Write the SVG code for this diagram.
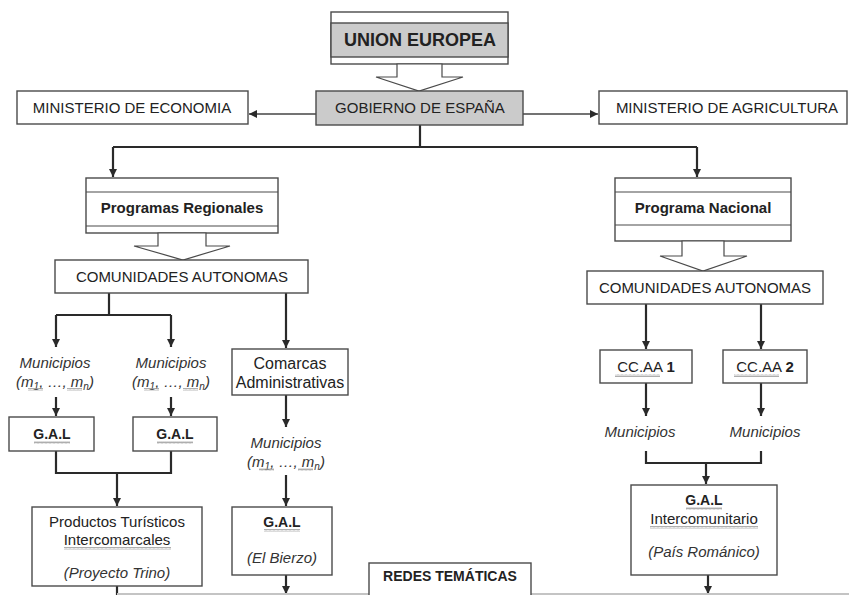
<svg xmlns="http://www.w3.org/2000/svg" width="849" height="595" viewBox="0 0 849 595">
<defs>
<marker id="ah" markerUnits="userSpaceOnUse" markerWidth="9" markerHeight="9" refX="8" refY="4" orient="auto">
<path d="M0,0 L8,4 L0,8 z" fill="#2a2a2a"/>
</marker>
<pattern id="squig" patternUnits="userSpaceOnUse" width="4" height="3">
<path d="M0,2.5 L1,0.5 L2,2.5 L3,0.5 L4,2.5" fill="none" stroke="#999" stroke-width="0.8"/>
</pattern>
<style>
.box{fill:#fff;stroke:#4a4a4a;stroke-width:1.4}
.gray{fill:#cbcbcb;stroke:#4a4a4a;stroke-width:1.4}
.ln{fill:none;stroke:#4a4a4a;stroke-width:1.2}
.blk{fill:#fff;stroke:#4a4a4a;stroke-width:1.2}
.con{fill:none;stroke:#2a2a2a;stroke-width:2.2}
.thin{fill:none;stroke:#444;stroke-width:1.6}
.arr{marker-end:url(#ah)}
text{font-family:"Liberation Sans",Arial,sans-serif;fill:#222;text-anchor:middle}
.b{font-weight:bold}
.i{font-style:italic;fill:#333}
.r{font-size:15px}
.sq{fill:url(#squig)}
</style>
</defs>
<rect width="849" height="595" fill="#fff"/>

<g id="connectors">
<path class="thin arr" d="M316,114 L249,114"/>
<path class="thin arr" d="M523,114 L598,114"/>
<path class="con" d="M420,125 L420,147 M113,147 L697,147"/>
<path class="con arr" d="M113,147 L113,177"/>
<path class="con arr" d="M697,147 L697,177"/>
<path class="con" d="M109,293 L109,315 M56,315 L171,315"/>
<path class="con arr" d="M56,315 L56,347"/>
<path class="con arr" d="M171,315 L171,347"/>
<path class="con arr" d="M286,293 L286,348"/>
<path class="con arr" d="M56,397 L56,416"/>
<path class="con arr" d="M171,397 L171,416"/>
<path class="con" d="M56,451 L56,473 L171,473 L171,451"/>
<path class="con arr" d="M117,473 L117,506"/>
<path class="con" d="M117,586 L117,595"/>
<path class="con arr" d="M286,395 L286,427"/>
<path class="con arr" d="M286,475 L286,506"/>
<path class="con arr" d="M286,575 L286,594"/>
<path class="con arr" d="M646,304 L646,349"/>
<path class="con arr" d="M761,304 L761,349"/>
<path class="con arr" d="M646,383 L646,416"/>
<path class="con arr" d="M761,383 L761,416"/>
<path class="con" d="M646,451 L646,463 L761,463 L761,451"/>
<path class="con arr" d="M706,463 L706,484"/>
<path class="con arr" d="M708,575 L708,594"/>
<path d="M117,594 L849,594" stroke="#c4c4c4" stroke-width="2" fill="none"/>
</g>

<g id="union-europea">
<rect class="box" x="331" y="12" width="177" height="52"/>
<rect class="gray" x="331" y="23" width="177" height="34"/>
<text class="b" x="420" y="46" font-size="18">UNION EUROPEA</text>
<polygon class="blk" points="397,64 442,64 442,77 463,77 419,91 376,77 397,77"/>
</g>

<g id="gobierno">
<rect class="gray" x="316" y="91" width="207" height="34"/>
<text class="r" x="420" y="113">GOBIERNO DE ESPAÑA</text>
</g>

<g id="min-economia">
<rect class="box" x="17" y="91" width="231" height="33"/>
<text class="r" x="132" y="113">MINISTERIO DE ECONOMIA</text>
</g>

<g id="min-agricultura">
<rect class="box" x="599" y="91" width="248" height="33"/>
<text class="r" x="727" y="113">MINISTERIO DE AGRICULTURA</text>
</g>

<g id="programas-regionales">
<rect class="box" x="86" y="178" width="192" height="55"/>
<path class="ln" d="M86,192 L278,192 M86,226 L278,226"/>
<text class="b r" x="182" y="213">Programas Regionales</text>
<polygon class="blk" points="158,233 206,233 206,246 230,246 183,260 134,246 158,246"/>
</g>

<g id="programa-nacional">
<rect class="box" x="615" y="178" width="176" height="63"/>
<path class="ln" d="M615,192 L791,192 M615,225 L791,225"/>
<text class="b r" x="703" y="213">Programa Nacional</text>
<polygon class="blk" points="682,241 724,241 724,256 747,256 703,271 660,256 682,256"/>
</g>

<g id="ccaa-left">
<rect class="box" x="55" y="260" width="253" height="33"/>
<text class="r" x="182" y="282">COMUNIDADES AUTONOMAS</text>
</g>

<g id="ccaa-right">
<rect class="box" x="587" y="271" width="236" height="33"/>
<text class="r" x="705" y="293">COMUNIDADES AUTONOMAS</text>
</g>

<g id="municipios-1">
<text class="i r" x="55" y="368">Municipios</text>
<text class="i r" x="55" y="387">(m<tspan font-size="10" dy="3">1</tspan><tspan dy="-3">, …, m</tspan><tspan font-size="10" dy="3">n</tspan><tspan dy="-3">)</tspan></text>
<rect class="sq" x="28" y="388" width="15" height="3"/>
<rect class="sq" x="67" y="388" width="15" height="3"/>
</g>

<g id="municipios-2">
<text class="i r" x="171" y="368">Municipios</text>
<text class="i r" x="171" y="387">(m<tspan font-size="10" dy="3">1</tspan><tspan dy="-3">, …, m</tspan><tspan font-size="10" dy="3">n</tspan><tspan dy="-3">)</tspan></text>
<rect class="sq" x="144" y="388" width="15" height="3"/>
<rect class="sq" x="183" y="388" width="15" height="3"/>
</g>

<g id="gal-1">
<rect class="box" x="9" y="417" width="85" height="34"/>
<text class="b" x="52" y="439" font-size="14">G.A.L</text>
<rect class="sq" x="34" y="441" width="36" height="3"/>
</g>

<g id="gal-2">
<rect class="box" x="133" y="417" width="84" height="34"/>
<text class="b" x="175" y="439" font-size="14">G.A.L</text>
<rect class="sq" x="157" y="441" width="36" height="3"/>
</g>

<g id="comarcas">
<rect class="box" x="232" y="349" width="116" height="46"/>
<text x="290" y="369" font-size="16">Comarcas</text>
<text x="290" y="388" font-size="16">Administrativas</text>
</g>

<g id="municipios-3">
<text class="i r" x="286" y="448">Municipios</text>
<text class="i r" x="286" y="467">(m<tspan font-size="10" dy="3">1</tspan><tspan dy="-3">, …, m</tspan><tspan font-size="10" dy="3">n</tspan><tspan dy="-3">)</tspan></text>
<rect class="sq" x="259" y="468" width="15" height="3"/>
<rect class="sq" x="298" y="468" width="15" height="3"/>
</g>

<g id="productos">
<rect class="box" x="32" y="507" width="170" height="79"/>
<text class="r" x="117" y="527">Productos Turísticos</text>
<text class="r" x="117" y="545">Intercomarcales</text>
<rect class="sq" x="64" y="547" width="107" height="3"/>
<text class="i r" x="117" y="578">(Proyecto Trino)</text>
</g>

<g id="gal-bierzo">
<rect class="box" x="232" y="507" width="100" height="68"/>
<text class="b" x="282" y="527" font-size="14">G.A.L</text>
<rect class="sq" x="264" y="529" width="36" height="3"/>
<text class="i r" x="282" y="563">(El Bierzo)</text>
</g>

<g id="ccaa-1">
<rect class="box" x="600" y="350" width="92" height="33"/>
<text class="r" x="646" y="372">CC.AA <tspan class="b">1</tspan></text>
<rect class="sq" x="615" y="374" width="45" height="3"/>
</g>

<g id="ccaa-2">
<rect class="box" x="723" y="350" width="84" height="33"/>
<text class="r" x="765" y="372">CC.AA <tspan class="b">2</tspan></text>
<rect class="sq" x="734" y="374" width="45" height="3"/>
</g>

<g id="municipios-4">
<text class="i r" x="640" y="437">Municipios</text>
</g>

<g id="municipios-5">
<text class="i r" x="765" y="437">Municipios</text>
</g>

<g id="gal-intercomunitario">
<rect class="box" x="631" y="485" width="146" height="90"/>
<text class="b" x="704" y="505" font-size="14">G.A.L</text>
<rect class="sq" x="686" y="507" width="36" height="3"/>
<text class="r" x="704" y="524">Intercomunitario</text>
<rect class="sq" x="650" y="526" width="108" height="3"/>
<text class="i r" x="704" y="557">(País Románico)</text>
</g>

<g id="redes-tematicas">
<rect class="box" x="369" y="563" width="162" height="40"/>
<text class="b" x="450" y="581" font-size="14">REDES TEMÁTICAS</text>
</g>
</svg>
